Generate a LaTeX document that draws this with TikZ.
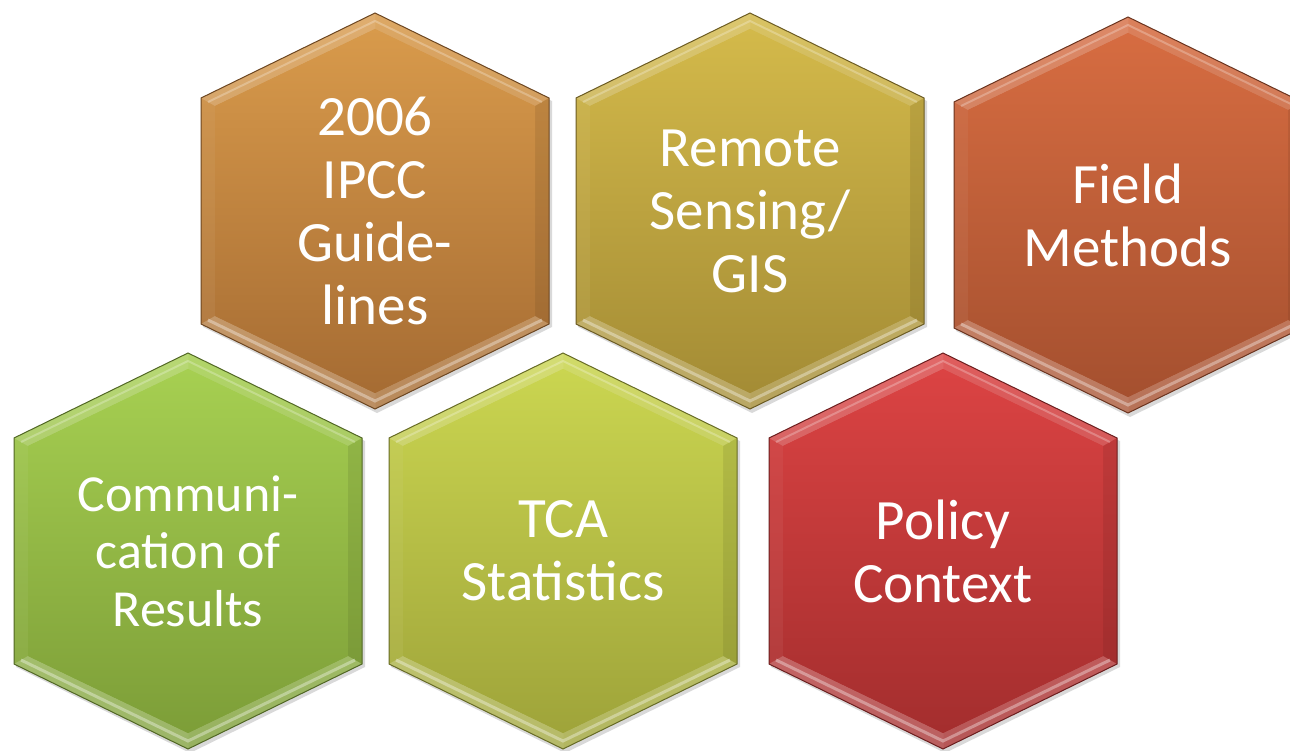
\documentclass[tikz,border=0pt]{standalone}
\usepackage{fontspec}
\setmainfont{Carlito}
\definecolor{ipccT}{HTML}{D89A4B}
\definecolor{ipccB}{HTML}{A66C33}
\definecolor{remT}{HTML}{D3B94A}
\definecolor{remB}{HTML}{A48C35}
\definecolor{fldT}{HTML}{D66C41}
\definecolor{fldB}{HTML}{A5502F}
\definecolor{comT}{HTML}{A6CF51}
\definecolor{comB}{HTML}{7D9E38}
\definecolor{tcaT}{HTML}{CAD550}
\definecolor{tcaB}{HTML}{9FA43A}
\definecolor{polT}{HTML}{DB4343}
\definecolor{polB}{HTML}{A42E2E}
\tikzset{
  hexlabel/.style={text=white, align=center, inner sep=0pt,
    font=\fontsize{57}{63}\selectfont},
  hexlabelsmall/.style={hexlabel, font=\fontsize{52}{57.5}\selectfont}
}
\newcommand\hexcell[7]{%
  \begin{scope}[shift={(#1,#2)}]
    \fill[black,opacity=0.15] (2,-195) -- (177,-110) -- (177,116) -- (2,202) -- (-172,116) -- (-172,-110) -- cycle;
    \shade[top color=#3,bottom color=#4] (0,-198) -- (174,-113) -- (174,113) -- (0,198) -- (-174,113) -- (-174,-113) -- cycle;
    \fill[white,opacity=0.20] (0,-198) -- (-174,-113) -- (-160,-105) -- (0,-182) -- cycle;
    \fill[white,opacity=0.14] (0,-198) -- (174,-113) -- (160,-105) -- (0,-182) -- cycle;
    \fill[black,opacity=0.08] (174,-113) -- (174,113) -- (160,105) -- (160,-105) -- cycle;
    \fill[white,opacity=0.05] (-174,-113) -- (-174,113) -- (-160,105) -- (-160,-105) -- cycle;
    \fill[white,opacity=0.20] (174,113) -- (0,198) -- (0,182) -- (160,105) -- cycle;
    \fill[white,opacity=0.24] (-174,113) -- (0,198) -- (0,182) -- (-160,105) -- cycle;
    \draw[white,opacity=0.35,line width=3] (-167,109) -- (0,190) -- (167,109);
    \draw[white,opacity=0.25,line width=2] (-167,-109) -- (0,-190) -- (167,-109);
    \shade[top color=#3,bottom color=#4] (0,-182) -- (160,-105) -- (160,105) -- (0,182) -- (-160,105) -- (-160,-105) -- cycle;
    \draw[#4!65!black,line width=1] (0,-198) -- (174,-113) -- (174,113) -- (0,198) -- (-174,113) -- (-174,-113) -- cycle;
  \end{scope}
  \node[#7] (#5) at (#1,#2) {#6};
}
\begin{document}
\begin{tikzpicture}[x=1pt,y=-1pt]
\useasboundingbox (0,0) rectangle (1290,751);
\clip (0,0) rectangle (1290,751);
\hexcell{375}{211}{ipccT}{ipccB}{ipcc}{2006\\IPCC\\Guide-\\lines}{hexlabel}
\hexcell{750}{211}{remT}{remB}{remote}{Remote\\Sensing/\\GIS}{hexlabel}
\hexcell{1128}{215}{fldT}{fldB}{field}{Field\\Methods}{hexlabel}
\hexcell{188}{551}{comT}{comB}{comm}{Communi-\\cation of\\Results}{hexlabelsmall}
\hexcell{563}{551}{tcaT}{tcaB}{tca}{TCA\\Statistics}{hexlabel}
\hexcell{943}{551}{polT}{polB}{policy}{Policy\\Context}{hexlabel}
\end{tikzpicture}
\end{document}
